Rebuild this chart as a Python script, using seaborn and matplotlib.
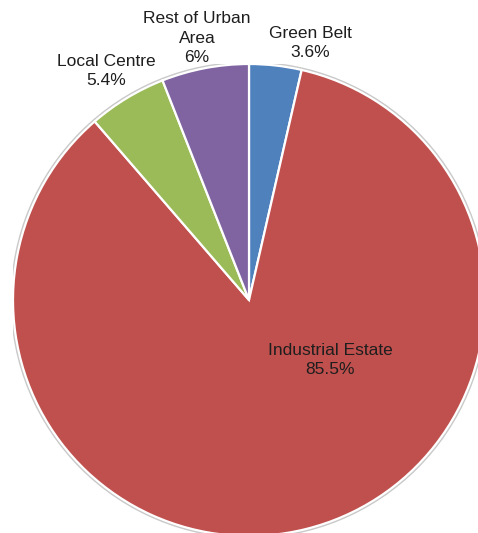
import matplotlib
matplotlib.use("Agg")
import matplotlib.pyplot as plt
import seaborn as sns

# Share of sites by location type
categories = ["Green Belt", "Industrial Estate", "Local Centre", "Rest of Urban Area"]
shares = [3.6, 85.5, 5.4, 6.0]
label_text = ["Green Belt", "Industrial Estate", "Local Centre", "Rest of Urban\nArea"]

sns.set_theme(style="white")
plt.rcParams["font.family"] = ["Liberation Sans", "DejaVu Sans"]

colors = sns.color_palette(["#4F81BD", "#C0504D", "#9BBB59", "#8064A2"])

W, H = 478, 533
fig = plt.figure(figsize=(W / 100, H / 100), dpi=100)
fig.patch.set_facecolor("white")

# pie centre and radius in pixels
cx, cy, r = 249, 300, 236
ax = fig.add_axes([(cx - r) / W, (H - cy - r) / H, 2 * r / W, 2 * r / H])
ax.set_axis_off()

# soft outer rim
rim = plt.Circle((0, 0), 1.006, facecolor="none", edgecolor="#c9c9c9", lw=1.6, zorder=0)
ax.add_patch(rim)

ax.pie(shares, colors=colors, startangle=90, counterclock=False, radius=1.0,
       wedgeprops=dict(edgecolor="white", linewidth=1.6), normalize=True)
ax.set_xlim(-1, 1)
ax.set_ylim(-1, 1)

# label anchors (pixel centres)
label_px = [(310, 43), (330, 360), (106, 71), (197, 38)]
for name, val, (px, py) in zip(label_text, shares, label_px):
    ax.text((px - cx) / r, (cy - py) / r, f"{name}\n{val:g}%",
            ha="center", va="center", fontsize=12.5, color="#1e1e1e",
            linespacing=1.36, clip_on=False)

fig.savefig("out.png", dpi=100, facecolor="white")
